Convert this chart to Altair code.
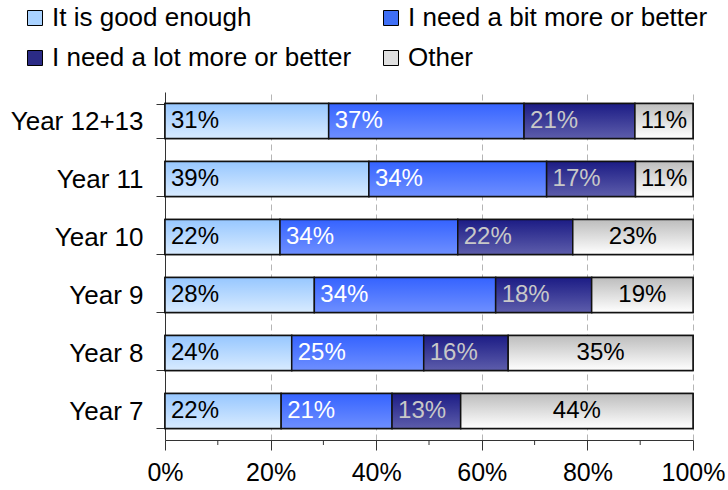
import altair as alt
import pandas as pd

years = ["Year 12+13", "Year 11", "Year 10", "Year 9", "Year 8", "Year 7"]
series = ["It is good enough", "I need a bit more or better",
          "I need a lot more or better", "Other"]
good = [31, 39, 22, 28, 24, 22]
bit = [37, 34, 34, 34, 25, 21]
lot = [21, 17, 22, 18, 16, 13]
other = [11, 11, 23, 19, 35, 44]
minor_ticks = [0.1, 0.3, 0.5, 0.7, 0.9]
major_ticks = [0, 0.2, 0.4, 0.6, 0.8, 1.0]

legend_colors = ["#a9d2ff", "#3f6ff5", "#2b2b86", "#e0e0e0"]
grad_stops = [("#97c7ff", "#d8ebff"), ("#3563ff", "#6e8fff"),
              ("#1c1c85", "#5d5dab"), ("#bdbdbd", "#ffffff")]
label_colors = ["#000000", "#ffffff", "#c8c8c8", "#000000"]

rows = []
for vals, s_idx in zip([good, bit, lot, other], range(4)):
    for y, v in zip(years, vals):
        rows.append({"year": y, "series": series[s_idx], "order": s_idx,
                     "value": v, "label": f"{v}%"})
df = pd.DataFrame(rows)

FONT = "Liberation Sans"
W, H = 528, 348

xscale = alt.Scale(domain=[0, 1], nice=False, zero=True)
xaxis = alt.Axis(title=None, values=major_ticks, format=".0%", grid=True,
                 gridDash=[6, 4], gridColor="#b5b5b5", gridWidth=1,
                 tickSize=10, tickColor="#333333", domainColor="#333333",
                 labelFontSize=25, labelFont=FONT, labelColor="black",
                 labelPadding=10, labelFlush=False)
yscale = alt.Scale(paddingInner=0.4, paddingOuter=0.2)
yaxis = alt.Axis(title=None, tickBand="extent", tickSize=9,
                 tickColor="#333333", domainColor="#333333",
                 labelFontSize=26, labelFont=FONT, labelColor="black",
                 labelPadding=13, grid=False)

X0 = alt.X("x0:Q", scale=xscale, axis=xaxis)
Y = alt.Y("year:N", sort=years, scale=yscale, axis=yaxis)

base = alt.Chart(df).transform_stack(
    stack="value", groupby=["year"], as_=["x0", "x1"], offset="normalize",
    sort=[alt.SortField("order", order="ascending")]
).transform_calculate(mid="(datum.x0 + datum.x1) / 2")

layers = []
legend_layer = base.mark_bar(stroke="black", strokeWidth=1.5).encode(
    x=X0, x2="x1:Q", y=Y,
    color=alt.Color("series:N", scale=alt.Scale(domain=series, range=legend_colors),
                    legend=alt.Legend(orient="none", legendX=-143, legendY=-87,
                                      columns=2, direction="horizontal",
                                      title=None, labelFontSize=26,
                                      labelFont=FONT, labelColor="black",
                                      labelLimit=0,
                                      symbolType="square", symbolSize=225,
                                      symbolStrokeColor="black", symbolStrokeWidth=1,
                                      columnPadding=26, rowPadding=14,
                                      labelOffset=4, padding=0))
)
layers.append(legend_layer)

for i, s in enumerate(series):
    top, bottom = grad_stops[i]
    grad = alt.Gradient(gradient="linear",
                        stops=[alt.GradientStop(color=top, offset=0),
                               alt.GradientStop(color=bottom, offset=1)],
                        x1=0, x2=0, y1=0, y2=1)
    bars = base.transform_filter(alt.datum.series == s).mark_bar(
        fill=grad, stroke="#111111", strokeWidth=1.5
    ).encode(x=X0, x2="x1:Q", y=Y)
    layers.append(bars)
    if s == "Other":
        txt = base.transform_filter(alt.datum.series == s).mark_text(
            align="center", baseline="middle", fontSize=24, font=FONT,
            color=label_colors[i]
        ).encode(x=alt.X("mid:Q", scale=xscale, axis=xaxis), y=Y, text="label:N")
    else:
        txt = base.transform_filter(alt.datum.series == s).mark_text(
            align="left", baseline="middle", fontSize=24, font=FONT, dx=6,
            color=label_colors[i]
        ).encode(x=X0, y=Y, text="label:N")
    layers.append(txt)

minor_df = pd.DataFrame({"x0": minor_ticks})
minor = alt.Chart(minor_df).mark_rule(color="#333333", strokeWidth=1).encode(
    x=alt.X("x0:Q", scale=xscale, axis=xaxis),
    y=alt.value(H), y2=alt.value(H + 5))
layers.append(minor)

chart = alt.layer(*layers).properties(
    width=W, height=H,
    padding={"left": 165, "top": 92, "right": 35, "bottom": 50},
    autosize=alt.AutoSizeParams(type="none"),
    background="white",
).configure_view(stroke=None)

chart.save("out.html", embed_options={"renderer": "svg", "actions": False})
